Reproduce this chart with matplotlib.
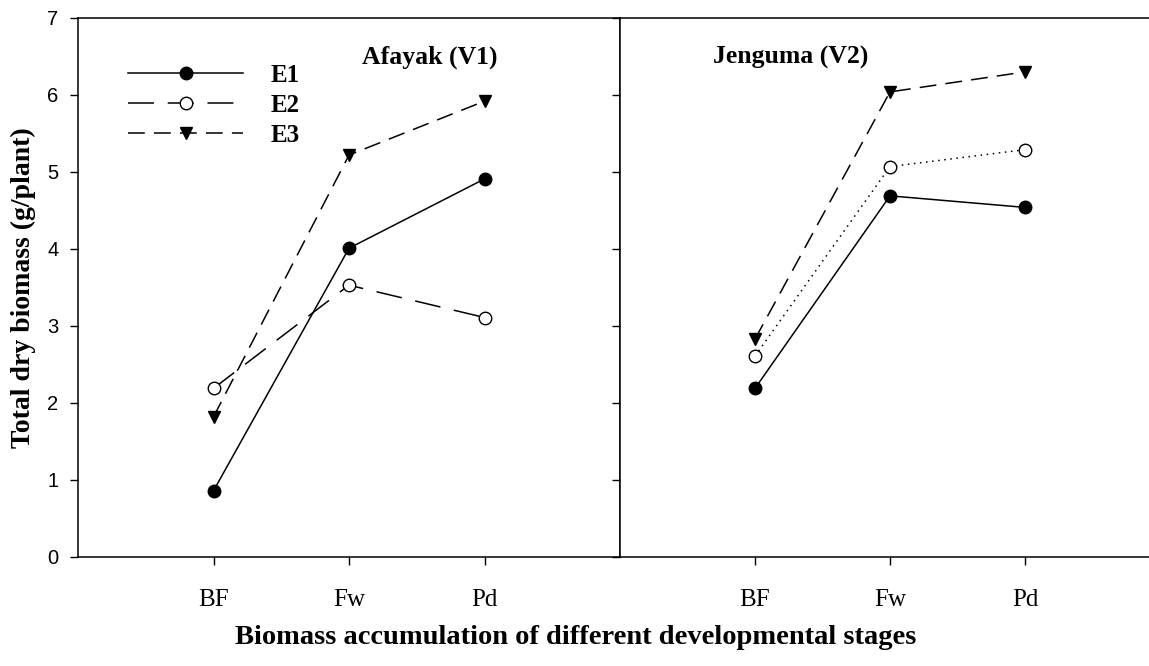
import matplotlib
matplotlib.use("Agg")
import matplotlib.pyplot as plt
from matplotlib.lines import Line2D

# growth stages and their positions on the x axis
stages = ["BF", "Fw", "Pd"]
stage_pos = [1, 2, 3]

# Afayak (V1)
v1_e1 = [0.86, 4.01, 4.91]
v1_e2 = [2.19, 3.53, 3.11]
v1_e3 = [1.82, 5.22, 5.92]

# Jenguma (V2)
v2_e1 = [2.19, 4.69, 4.54]
v2_e2 = [2.61, 5.07, 5.29]
v2_e3 = [2.83, 6.04, 6.30]

serif = "Liberation Serif"
sans = "Liberation Sans"

fig = plt.figure(figsize=(11.49, 6.66), dpi=100)
ax1 = fig.add_axes([0.0679, 0.1637, 0.4717, 0.8093])
ax2 = fig.add_axes([0.5396, 0.1637, 0.4700, 0.8093])

ms = 9
lw = 1.1
e2_dash = (17, 9)
e3_dash = (11, 6)


def draw(ax, e1, e2, e3, e2_dashes):
    ax.plot(stage_pos, e1, color="black", lw=lw, marker="o", ms=ms,
            mfc="black", mec="black")
    ax.plot(stage_pos, e2, color="black", lw=lw, marker="o", ms=ms,
            mfc="white", mec="black", mew=1.0, dashes=e2_dashes)
    ax.plot(stage_pos, e3, color="black", lw=lw, marker="v", ms=ms,
            mfc="black", mec="black", dashes=e3_dash)
    ax.set_xlim(0, 4)
    ax.set_ylim(0, 7)
    ax.set_xticks(stage_pos)
    ax.set_xticklabels(stages, fontfamily=serif, fontsize=18)
    ax.set_yticks(range(0, 8))
    ax.tick_params(direction="out", length=6, width=1, pad=8)
    ax.tick_params(axis="x", pad=17)
    for sp in ax.spines.values():
        sp.set_linewidth(1.1)


draw(ax1, v1_e1, v1_e2, v1_e3, e2_dash)
draw(ax2, v2_e1, v2_e2, v2_e3, (1, 3))

for lab in ax1.get_yticklabels():
    lab.set_fontfamily(sans)
    lab.set_fontsize(14.5)
ax2.set_yticklabels([])

ax1.text(0.524, 0.928, "Afayak (V1)", transform=ax1.transAxes,
         fontfamily=serif, fontweight="bold", fontsize=18.5, va="center")
ax2.text(0.172, 0.926, "Jenguma (V2)", transform=ax2.transAxes,
         fontfamily=serif, fontweight="bold", fontsize=18.5, va="center")

handles = [
    Line2D([], [], color="black", lw=lw, marker="o", ms=ms, mfc="black"),
    Line2D([], [], color="black", lw=lw, marker="o", ms=ms, mfc="white",
           dashes=e2_dash),
    Line2D([], [], color="black", lw=lw, marker="v", ms=ms, mfc="black",
           dashes=e3_dash),
]
ax1.legend(handles, ["E1", "E2", "E3"], loc="upper left",
           bbox_to_anchor=(0.070, 0.938), frameon=False, handlelength=4.6,
           handletextpad=1.08, labelspacing=0.28, borderpad=0,
           prop={"family": serif, "weight": "bold", "size": 18})

ax1.set_ylabel("Total dry biomass (g/plant)", fontfamily=serif,
               fontweight="bold", fontsize=20, labelpad=8)
fig.text(0.501, 0.043, "Biomass accumulation of different developmental stages",
         ha="center", va="center", fontfamily=serif, fontweight="bold",
         fontsize=20.5)

fig.savefig("out.png", dpi=100)
